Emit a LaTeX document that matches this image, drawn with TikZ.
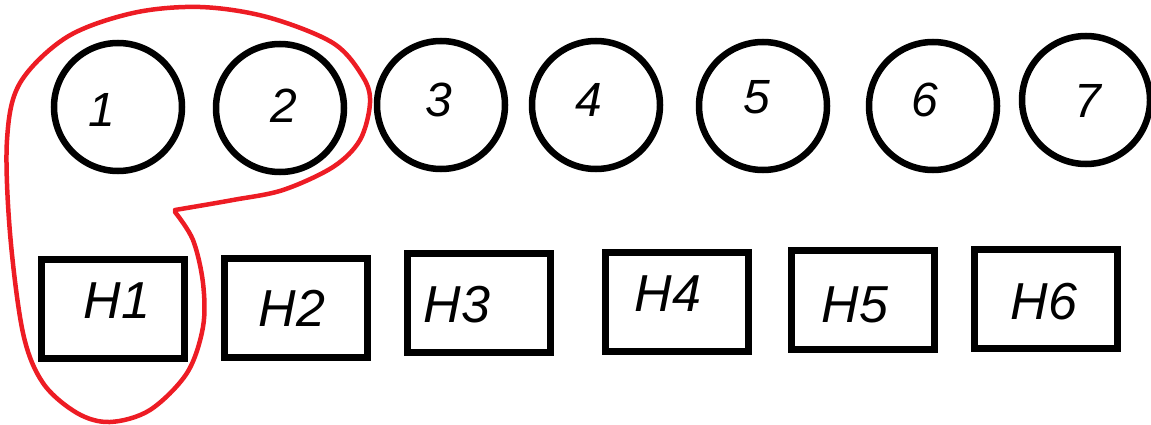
\documentclass[tikz,border=0pt]{standalone}
\usepackage{fontspec}
\setmainfont{Liberation Sans}
\usetikzlibrary{positioning}
\definecolor{PaintR}{RGB}{237,28,36}
\tikzset{
  station/.style={circle,draw,line width=6.5pt,minimum size=128pt,inner sep=0pt},
  hall/.style={rectangle,draw,line width=7pt,minimum width=143pt,minimum height=99pt,inner sep=0pt},
  numtxt/.style={inner sep=0pt,font=\fontsize{48}{52}\selectfont\itshape},
  halltxt/.style={inner sep=0pt,font=\fontsize{52}{56}\selectfont\itshape}
}
\begin{document}
\begin{tikzpicture}[x=1pt,y=-1pt]
  \useasboundingbox (0,0) rectangle (1151,425);
  % numbered circles
  \foreach \n/\x/\y/\tx/\ty in {1/118/107/102/110, 2/280/108/284/106,
                                3/441/105/439/100, 4/596/105/589/100,
                                5/763/106/757/97, 6/933/106/925/100,
                                7/1086/100/1088/101}{
    \node[station] (c\n) at (\x,\y) {};
    \node[numtxt] (t\n) at (\tx,\ty) {\n};
  }
  % boxes
  \foreach \n/\x/\y/\tx/\ty in {1/113/309/117/301, 2/296/308/292/308,
                                3/479/303/457/305, 4/677/302/668/294,
                                5/863/300/855/305, 6/1046/299/1044/302}{
    \node[hall] (h\n) at (\x,\y) {};
    \node[halltxt] (ht\n) at (\tx,\ty) {H\n};
  }
  % red loop round 1, 2 and H1
  \draw[PaintR,line width=4.5pt,line cap=round,line join=round]
    plot[smooth,tension=0.55] coordinates {
      (175,210) (233,200) (283,190) (333,167) (360,140) (370,103) (363,77)
      (333,43) (267,17) (200,7) (133,13) (67,37) (20,83) (7,140) (10,233)
      (23,333) (43,383) (77,413) (110,422) (150,410) (187,373) (203,327)
      (203,283) (193,240) (175,212)};
\end{tikzpicture}
\end{document}
